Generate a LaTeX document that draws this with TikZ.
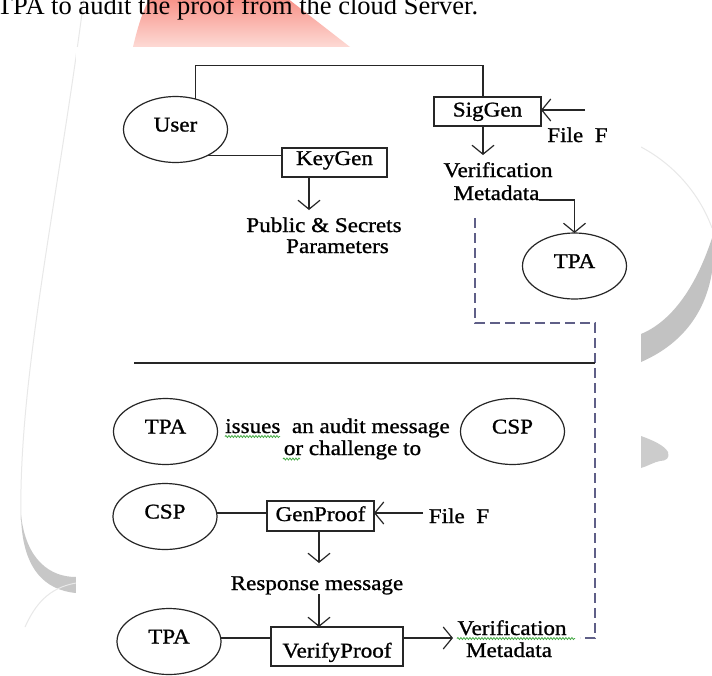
\documentclass[tikz,border=0pt]{standalone}
\usepackage{fontspec}
\setmainfont{Liberation Serif}
\newfontfamily\dfont{Liberation Serif}[FakeStretch=1.1,FakeBold=1]
\usetikzlibrary{shapes.geometric,arrows.meta,decorations.pathmorphing}
\definecolor{dashc}{RGB}{95,95,135}
\definecolor{squigc}{RGB}{70,170,70}
\definecolor{salA}{RGB}{248,145,135}
\definecolor{salB}{RGB}{253,218,213}
\begin{document}
\begin{tikzpicture}[x=1pt,y=-1pt,
  every node/.style={inner sep=0pt, outer sep=0pt, font=\dfont\fontsize{21}{24}\selectfont},
  ell/.style={ellipse, draw=black!85, line width=1.2pt, minimum width=104pt, minimum height=66pt, text height=14pt, text depth=10pt},
  box/.style={rectangle, draw=black!85, line width=1.2pt, text height=14pt, text depth=4pt},
  con/.style={draw=black!85, line width=1.2pt},
  arr/.style={con, -{Straight Barb[length=9pt,width=22pt]}},
  dline/.style={draw=dashc, line width=1.2pt, dash pattern=on 10pt off 5pt},
  squig/.style={draw=squigc, line width=0.8pt, decorate, decoration={snake, amplitude=1pt, segment length=3pt}},
  lbl/.style={anchor=base},
]
\useasboundingbox (0,0) rectangle (712,675);
\fill[white] (0,0) rectangle (712,675);
% watermark
\shade[top color=salA, bottom color=salB] (133,47) .. controls (137,30) and (142,12) .. (150,-2) -- (287,-2) -- (350,47) -- cycle;
\draw[black!9, line width=1pt] (84,-2) .. controls (58,200) and (18,380) .. (21,520);
\fill[black!22] (21,515) .. controls (26,560) and (50,577) .. (76,577) -- (76,593) .. controls (44,590) and (22,568) .. (21,515) -- cycle;
\draw[black!9, line width=1pt] (25,627) .. controls (35,605) and (48,588) .. (76,583);
\draw[black!9, line width=1pt] (641,147) .. controls (675,165) and (700,195) .. (712,228);
\fill[black!24] (712,238) .. controls (695,290) and (670,322) .. (641,334) -- (641,362) .. controls (680,345) and (705,315) .. (712,272) -- cycle;
\fill[black!20] (641,436) .. controls (652,440) and (664,445) .. (668,452) .. controls (670,458) and (666,461) .. (660,461) .. controls (654,462) and (648,466) .. (641,468) -- cycle;
\fill[white] (76,47) rectangle (641,675);
% header
\node[anchor=base west, font=\rmfamily\fontsize{26.5}{30}\selectfont] (hdr) at (-3,14) {TPA to audit the proof from the cloud Server.};
% upper part
\node[ell] (user) at (175.5,129.5) {User};
\node[box, minimum width=107pt, minimum height=29pt] (siggen) at (487.5,111.5) {SigGen};
\node[box, minimum width=105pt, minimum height=29pt, text depth=9pt] (keygen) at (334.5,162.5) {KeyGen};
\node[lbl] (file1) at (577.5,142) {File~ F};
\node[lbl] (verif1) at (498,177) {Verification};
\node[lbl] (meta1) at (496.5,200) {Metadata};
\node[lbl] (pub) at (324,232) {Public \& Secrets};
\node[lbl] (par) at (337.5,253) {Parameters};
\node[ell] (tpa0) at (574.5,266) {TPA};
\coordinate (ctop) at (483,65.7);
\draw[con] (user.57) |- (ctop) -- (ctop |- siggen.north);
\draw[con] (user.-38) -- (user.-38 -| keygen.west);
\coordinate (kgend) at (309,210);
\draw[arr] (kgend |- keygen.south) -- (kgend);
\coordinate (sgend) at (483,155);
\draw[arr] (sgend |- siggen.south) -- (sgend);
\coordinate (ff1) at (585,110);
\draw[arr] (ff1) -- (ff1 -| siggen.east);
\draw[arr] (meta1.base east) -| (tpa0.north);
\coordinate (d1) at (475,218);
\coordinate (d2) at (595,323);
\coordinate (d3) at (595,638);
\coordinate (d4) at (580,638);
\draw[dline] (d1) |- (d2) -- (d3) -- (d4);
\coordinate (s1) at (134,363);
\coordinate (s2) at (595,363);
\draw[con] (s1) -- (s2);
% row 1
\node[ell] (tpa1) at (165.5,431.5) {TPA};
\node[ell] (csp1) at (512.5,431.5) {CSP};
\node[lbl] (iss) at (337.5,433) {issues~ an audit message};
\node[lbl] (orc) at (352.5,455) {or challenge to};
\draw[squig] (225,436.5) -- (280,436.5);
\draw[squig] (283,459) -- (300,459);
% row 2
\node[ell] (csp2) at (165,516.5) {CSP};
\node[box, minimum width=107pt, minimum height=30pt] (genproof) at (320.5,516) {GenProof};
\node[lbl] (file2) at (459,523) {File~ F};
\coordinate (r2) at (0,513);
\draw[con] (csp2.east |- r2) -- (genproof.west |- r2);
\coordinate (ff2) at (423,513);
\draw[arr] (ff2) -- (ff2 -| genproof.east);
\coordinate (gpend) at (319,563);
\draw[arr] (gpend |- genproof.south) -- (gpend);
\node[lbl] (resp) at (317,590) {Response message};
% row 3
\node[ell] (tpa3) at (169,641.5) {TPA};
\node[box, minimum width=132pt, minimum height=39pt, text height=22pt, text depth=0pt] (verifyproof) at (337,646.5) {VerifyProof};
\coordinate (rms) at (319,594);
\draw[arr] (rms) -- (rms |- verifyproof.north);
\coordinate (r3) at (0,638);
\draw[con] (tpa3.east |- r3) -- (verifyproof.west |- r3);
\coordinate (vpend) at (453,638);
\draw[arr] (verifyproof.east |- r3) -- (vpend);
\node[lbl] (verif2) at (512,635) {Verification};
\node[lbl] (meta2) at (509,657) {Metadata};
\draw[squig] (457,638.5) -- (575,638.5);
\end{tikzpicture}
\end{document}
